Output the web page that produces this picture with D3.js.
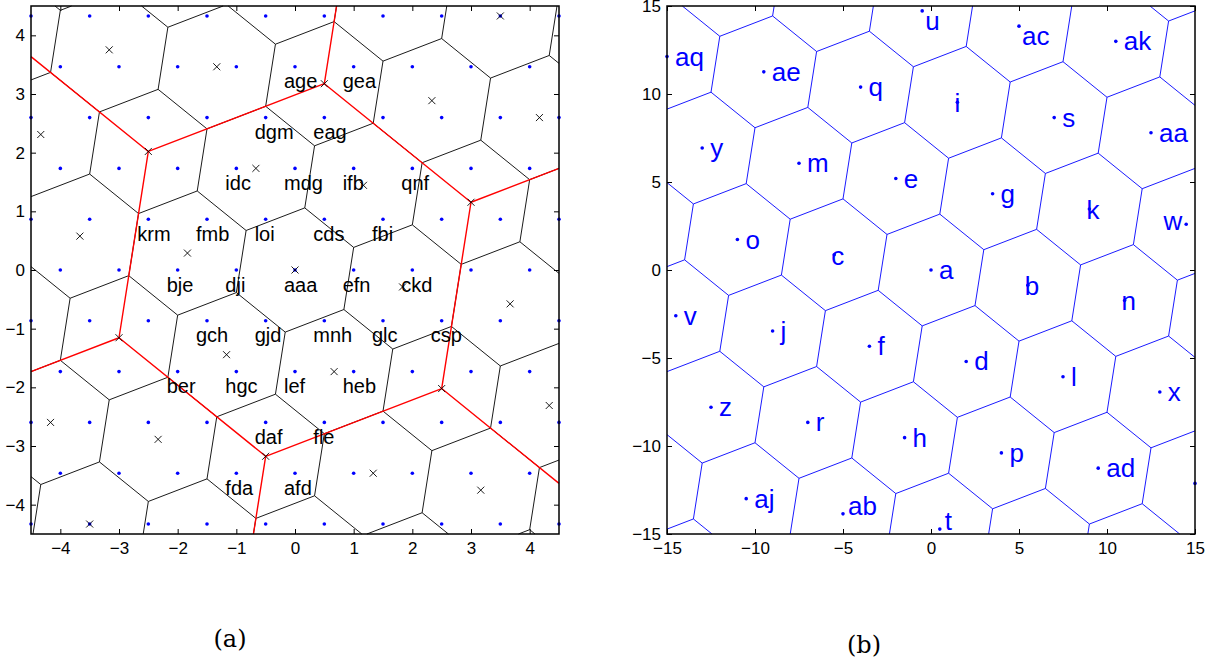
<!DOCTYPE html>
<html lang="en">
  <head>
    <meta charset="UTF-8" />
    <title>lattice voronoi</title>
    <script src="https://cdn.jsdelivr.net/npm/d3@7/dist/d3.min.js"></script>
    <style>
      body { margin: 0; background: #fff; }
      text { font-family: "Liberation Sans", Arial, sans-serif; }
      text.caption { font-family: "DejaVu Serif", serif; }
    </style>
  </head>
  <body>
    <div id="wrapper"></div>
    <script>
      const SQ3 = Math.sqrt(3);

      // lattice bases in data units
      const fineBasis = [[1, 0], [0.5, SQ3 / 2]]; // blue dots (a)
      const codeBasis = [[11 / 6, -SQ3 / 6], [7 / 6, (5 * SQ3) / 6]]; // black cells, x marks (a)
      const coarseBasis = [[5.5, -SQ3 / 2], [3.5, (5 * SQ3) / 2]]; // red cells (a), blue cells (b)

      // (a) labels: [name, i, j] on fineBasis
      const leftLabels = [
        ["age", -2, 4], ["gea", -1, 4],
        ["dgm", -2, 3], ["eag", -1, 3],
        ["idc", -2, 2], ["mdg", -1, 2], ["ifb", 0, 2], ["qnf", 1, 2],
        ["krm", -3, 1], ["fmb", -2, 1], ["loi", -1, 1], ["cds", 0, 1], ["fbi", 1, 1],
        ["bje", -2, 0], ["dji", -1, 0], ["aaa", 0, 0], ["efn", 1, 0], ["ckd", 2, 0],
        ["gch", -1, -1], ["gjd", 0, -1], ["mnh", 1, -1], ["glc", 2, -1], ["csp", 3, -1],
        ["ber", -1, -2], ["hgc", 0, -2], ["lef", 1, -2], ["heb", 2, -2],
        ["daf", 1, -3], ["fle", 2, -3],
        ["fda", 1, -4], ["afd", 2, -4],
      ];

      // (b) labels: [name, i, j, placement] on coarseBasis
      const rightLabels = [
        ["a", 0, 0, "r"], ["b", 1, 0, "o"], ["c", -1, 0, "o"], ["d", 1, -1, "r"],
        ["e", -1, 1, "r"], ["f", 0, -1, "r"], ["g", 0, 1, "r"], ["h", 1, -2, "r"],
        ["i", -1, 2, "o"], ["j", -1, -1, "r"], ["k", 1, 1, "o"], ["l", 2, -1, "r"],
        ["m", -2, 1, "r"], ["n", 2, 0, "o"], ["o", -2, 0, "r"], ["p", 2, -2, "r"],
        ["q", -2, 2, "r"], ["r", 0, -2, "r"], ["s", 0, 2, "r"], ["t", 2, -3, "b"],
        ["u", -2, 3, "t"], ["v", -2, -1, "r"], ["w", 2, 1, "l"], ["x", 3, -1, "r"],
        ["y", -3, 1, "r"], ["z", -1, -2, "r"], ["aa", 1, 2, "r"], ["ab", 1, -3, "b"],
        ["ac", -1, 3, "t"], ["ad", 3, -2, "r"], ["ae", -3, 2, "r"], ["aj", 0, -3, "r"],
        ["ak", 0, 3, "r"], ["aq", -4, 2, "r"],
      ];

      const leftTicks = [-4, -3, -2, -1, 0, 1, 2, 3, 4];
      const rightTicks = [-15, -10, -5, 0, 5, 10, 15];
      const captions = ["(a)", "(b)"];

      const dimensions = {
        width: 1219,
        height: 669,
        size: 528,
        top: 6,
        leftA: 31,
        leftB: 667,
      };

      const at = (basis, i, j) => [
        i * basis[0][0] + j * basis[1][0],
        i * basis[0][1] + j * basis[1][1],
      ];

      function latticePoints(basis, n, lim) {
        return d3
          .cross(d3.range(-n, n + 1), d3.range(-n, n + 1))
          .map(([i, j]) => at(basis, i, j))
          .filter(([a, b]) => Math.abs(a) <= lim + 1e-9 && Math.abs(b) <= lim + 1e-9);
      }

      function voronoiPath(sites, x, y) {
        const pts = sites.map(([a, b]) => [x(a), y(b)]);
        const [x0, x1] = x.range();
        const [y1, y0] = y.range();
        return d3.Delaunay.from(pts).voronoi([x0, y0, x1, y1]).render();
      }

      function drawAxes(g, x, y, ticks) {
        const [x0, x1] = x.range();
        const [y1, y0] = y.range();
        const style = (sel) => {
          sel.select(".domain").remove();
          sel.selectAll(".tick line").attr("stroke", "#000").attr("stroke-width", 1);
          sel.selectAll(".tick text").attr("fill", "#000");
          sel.attr("font-size", 17);
        };
        g.append("g").attr("transform", `translate(0,${y1})`)
          .call(d3.axisBottom(x).tickValues(ticks).tickSize(-5).tickPadding(8)).call(style);
        g.append("g").attr("transform", `translate(0,${y0})`)
          .call(d3.axisTop(x).tickValues(ticks).tickSize(-5).tickFormat("")).call(style);
        g.append("g").attr("transform", `translate(${x0},0)`)
          .call(d3.axisLeft(y).tickValues(ticks).tickSize(-5).tickPadding(6)).call(style);
        g.append("g").attr("transform", `translate(${x1},0)`)
          .call(d3.axisRight(y).tickValues(ticks).tickSize(-5).tickFormat("")).call(style);
        g.append("rect")
          .attr("x", x0).attr("y", y0)
          .attr("width", x1 - x0).attr("height", y1 - y0)
          .attr("fill", "none").attr("stroke", "#000").attr("stroke-width", 1.5);
      }

      const svg = d3
        .select("#wrapper")
        .append("svg")
        .attr("width", dimensions.width)
        .attr("height", dimensions.height);

      // ---------- panel (a)
      function drawLeft() {
        const x = d3.scaleLinear().domain([-4.5, 4.5])
          .range([dimensions.leftA, dimensions.leftA + dimensions.size]);
        const y = d3.scaleLinear().domain([-4.5, 4.5])
          .range([dimensions.top + dimensions.size, dimensions.top]);
        const g = svg.append("g");

        g.append("path")
          .attr("d", voronoiPath(latticePoints(codeBasis, 14, 11), x, y))
          .attr("fill", "none").attr("stroke", "#000").attr("stroke-width", 0.9);
        g.append("path")
          .attr("d", voronoiPath(latticePoints(coarseBasis, 10, 22), x, y))
          .attr("fill", "none").attr("stroke", "#ff0000").attr("stroke-width", 1.4);

        g.selectAll("circle.dot")
          .data(latticePoints(fineBasis, 14, 4.5))
          .join("circle")
          .attr("cx", (d) => x(d[0])).attr("cy", (d) => y(d[1]))
          .attr("r", 1.8).attr("fill", "#0000ff");

        g.selectAll("path.cross")
          .data(latticePoints(codeBasis, 14, 4.5))
          .join("path")
          .attr("d", (d) => {
            const cx = x(d[0]), cy = y(d[1]), s = 3.5;
            return `M${cx - s},${cy - s}L${cx + s},${cy + s}M${cx - s},${cy + s}L${cx + s},${cy - s}`;
          })
          .attr("stroke", "#000").attr("stroke-width", 0.9);

        g.selectAll("text.lab")
          .data(leftLabels)
          .join("text")
          .attr("x", (d) => x(at(fineBasis, d[1], d[2])[0]) - 11)
          .attr("y", (d) => y(at(fineBasis, d[1], d[2])[1]) + 21.5)
          .attr("font-size", 20)
          .attr("fill", "#000")
          .text((d) => d[0]);

        drawAxes(g, x, y, leftTicks);
      }

      // ---------- panel (b)
      function drawRight() {
        const x = d3.scaleLinear().domain([-15, 15])
          .range([dimensions.leftB, dimensions.leftB + dimensions.size]);
        const y = d3.scaleLinear().domain([-15, 15])
          .range([dimensions.top + dimensions.size, dimensions.top]);
        const g = svg.append("g");

        g.append("path")
          .attr("d", voronoiPath(latticePoints(coarseBasis, 16, 34), x, y))
          .attr("fill", "none").attr("stroke", "#0000ff").attr("stroke-width", 0.9);

        g.selectAll("circle.dot")
          .data(latticePoints(coarseBasis, 16, 15))
          .join("circle")
          .attr("cx", (d) => x(d[0])).attr("cy", (d) => y(d[1]))
          .attr("r", 1.8).attr("fill", "#0000ff");

        const place = {
          r: [8, 9, "start"],
          o: [-3, 10, "start"],
          b: [5, 1, "start"],
          t: [3, 19, "start"],
          l: [-4, 6, "end"],
        };
        g.selectAll("text.lab")
          .data(rightLabels)
          .join("text")
          .attr("x", (d) => x(at(coarseBasis, d[1], d[2])[0]) + place[d[3]][0])
          .attr("y", (d) => y(at(coarseBasis, d[1], d[2])[1]) + place[d[3]][1])
          .attr("text-anchor", (d) => place[d[3]][2])
          .attr("font-size", 26)
          .attr("fill", "#0000ff")
          .text((d) => d[0]);

        drawAxes(g, x, y, rightTicks);
      }

      drawLeft();
      drawRight();

      svg.selectAll("text.caption")
        .data(captions)
        .join("text")
        .attr("class", "caption")
        .attr("x", (d, i) => [230, 864][i])
        .attr("y", (d, i) => [647, 653][i])
        .attr("text-anchor", "middle")
        .attr("font-size", 24)
        .text((d) => d);
    </script>
  </body>
</html>
